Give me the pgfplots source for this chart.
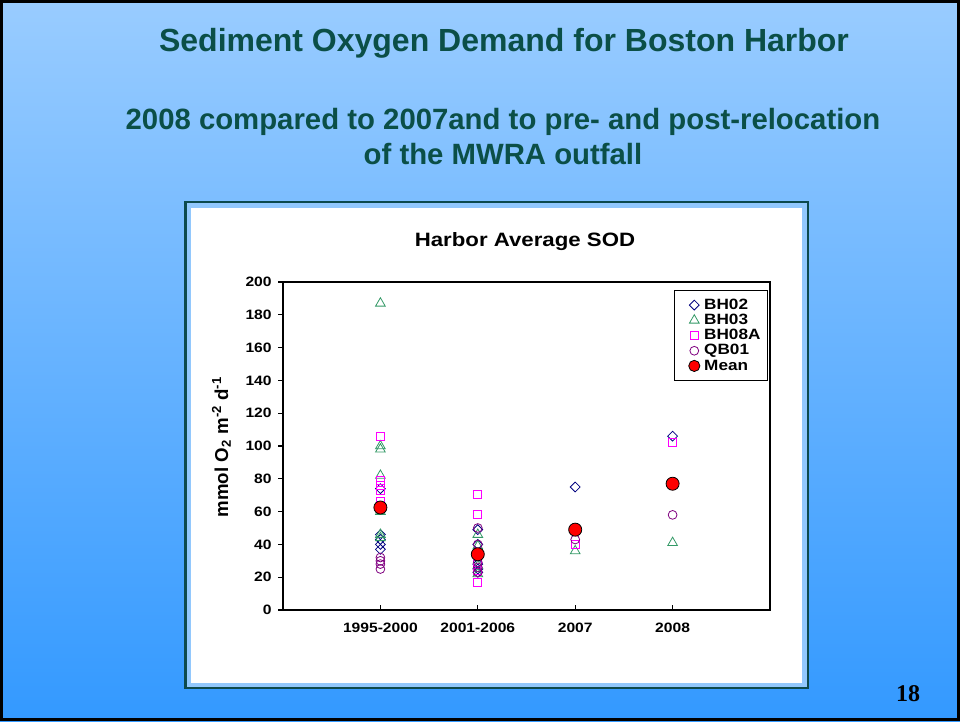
\documentclass[border=0pt]{standalone}
\usepackage{fontspec}
\setmainfont{Liberation Sans}
\newfontfamily\chartfont[FakeStretch=1.15]{Liberation Sans}
\newfontfamily\numfont{Liberation Serif}
\usepackage{pgfplots}
\pgfplotsset{compat=1.18}
\definecolor{bgtop}{HTML}{99CCFF}
\definecolor{bgbot}{HTML}{3399FF}
\definecolor{titlecol}{HTML}{0B4F47}
\definecolor{framecol}{HTML}{0D4A4D}
\definecolor{stripcol}{HTML}{92C8FD}
\definecolor{bhtwo}{HTML}{000080}
\definecolor{bhthree}{HTML}{339966}
\definecolor{bheight}{HTML}{FF00FF}
\definecolor{qbone}{HTML}{800080}
\pgfplotsset{mylegimg/.style={legend image code/.code={%
  \path (0cm,-0.12cm) (0.6cm,0.12cm);%
  \draw[mark repeat=2,mark phase=2,##1] plot coordinates {(0cm,0cm) (0.42cm,0cm) (0.6cm,0cm)};}},
  mylegimgmean/.style={legend image code/.code={%
  \path (0cm,-0.12cm) (0.6cm,0.12cm);%
  \draw[mark repeat=2,mark phase=2,##1,mark size=4.2pt] plot coordinates {(0cm,0cm) (0.42cm,0cm) (0.6cm,0cm)};}}}
\begin{document}
\begin{tikzpicture}[x=0.75pt,y=-0.75pt]
\shade[top color=bgtop,bottom color=bgbot] (0,0) rectangle (960,721);
\draw[black,line width=2.25pt] (1.5,1.5) rectangle (958.5,719.5);
\node[text=titlecol,font=\bfseries\fontsize{24}{28}\selectfont] at (504,43) {Sediment Oxygen Demand for Boston Harbor};
\node[text=titlecol,font=\bfseries\fontsize{22}{26.25}\selectfont,align=center] at (503,137) {2008 compared to 2007and to pre- and post-relocation\\of the MWRA outfall};
\filldraw[fill=stripcol,draw=framecol,line width=1.9pt] (185.5,202) rectangle (808,688);
\fill[white] (191,207.5) rectangle (802,683);
\node[font=\chartfont\bfseries\fontsize{14.5}{17}\selectfont] at (525,242) {Harbor Average SOD};
\node[rotate=90,font=\bfseries\fontsize{14}{16}\selectfont] at (221.5,447) {mmol O\textsubscript{2} m\textsuperscript{-2} d\textsuperscript{-1}};
\node[font=\numfont\bfseries\fontsize{18}{20}\selectfont] at (908,694) {18};
\begin{axis}[
  at={(212.25pt,-457.5pt)}, anchor=south west,
  scale only axis, width=365.25pt, height=246pt,
  xmin=-1, xmax=4, ymin=0, ymax=200,
  xtick={0,1,2,3},
  xticklabels={1995-2000,2001-2006,2007,2008},
  ytick={0,20,...,200},
  xtick pos=bottom, ytick pos=left,
  tick align=inside,
  major tick length=3.75pt,
  major tick style={black,line width=1pt},
  ytick style={xshift=-3.75pt},
  axis line style={line width=1.5pt},
  /pgf/number format/assume math mode=true,
  ticklabel style={font=\chartfont\bfseries\fontsize{10.2}{12}\selectfont},
  yticklabel style={xshift=-5pt},
  xticklabel style={yshift=-6.5pt},
  legend style={at={(rel axis cs:0.995,0.975)}, anchor=north east, draw=black, line width=0.6pt,
    font=\chartfont\bfseries\fontsize{11.2}{11.5}\selectfont, inner xsep=3pt, inner ysep=4.2pt,
    row sep=-1.9pt, cells={anchor=west}},
]
\addplot[only marks, mylegimg, color=bhtwo, mark=square, mark size=2.6pt, mark options={rotate=45, line width=0.6pt, fill=none, solid}] coordinates {
(0,74) (0,46) (0,43) (0,40) (0,37)
(1,49) (1,40) (1,28) (1,25) (1,23)
(2,75)
(3,106)
};
\addlegendentry{BH02}
\addplot[only marks, mylegimg, color=bhthree, mark=triangle, mark size=4.2pt, mark options={line width=0.6pt, fill=none, solid}] coordinates {
(0,187) (0,100) (0,98) (0,82) (0,60) (0,46) (0,44)
(1,46) (1,39) (1,27) (1,22)
(2,36)
(3,41)
};
\addlegendentry{BH03}
\addplot[only marks, mylegimg, color=bheight, mark=square, mark size=3pt, mark options={line width=0.6pt, fill=none, solid}] coordinates {
(0,106) (0,79) (0,76) (0,73) (0,66)
(1,70.5) (1,58) (1,28) (1,24) (1,17)
(2,40)
(3,102)
};
\addlegendentry{BH08A}
\addplot[only marks, mylegimg, color=qbone, mark=o, mark size=3.3pt, mark options={line width=0.6pt, fill=none, solid}] coordinates {
(0,32) (0,30) (0,28) (0,25)
(1,50) (1,40) (1,29) (1,26) (1,23)
(2,43)
(3,58)
};
\addlegendentry{QB01}
\addplot[only marks, mylegimgmean, color=black, mark=*, mark size=4.9pt, mark options={draw=black, fill=red, line width=0.6pt, solid}] coordinates {
(0,62.5) (1,34) (2,49) (3,77)
};
\addlegendentry{Mean}
\end{axis}
\end{tikzpicture}
\end{document}
